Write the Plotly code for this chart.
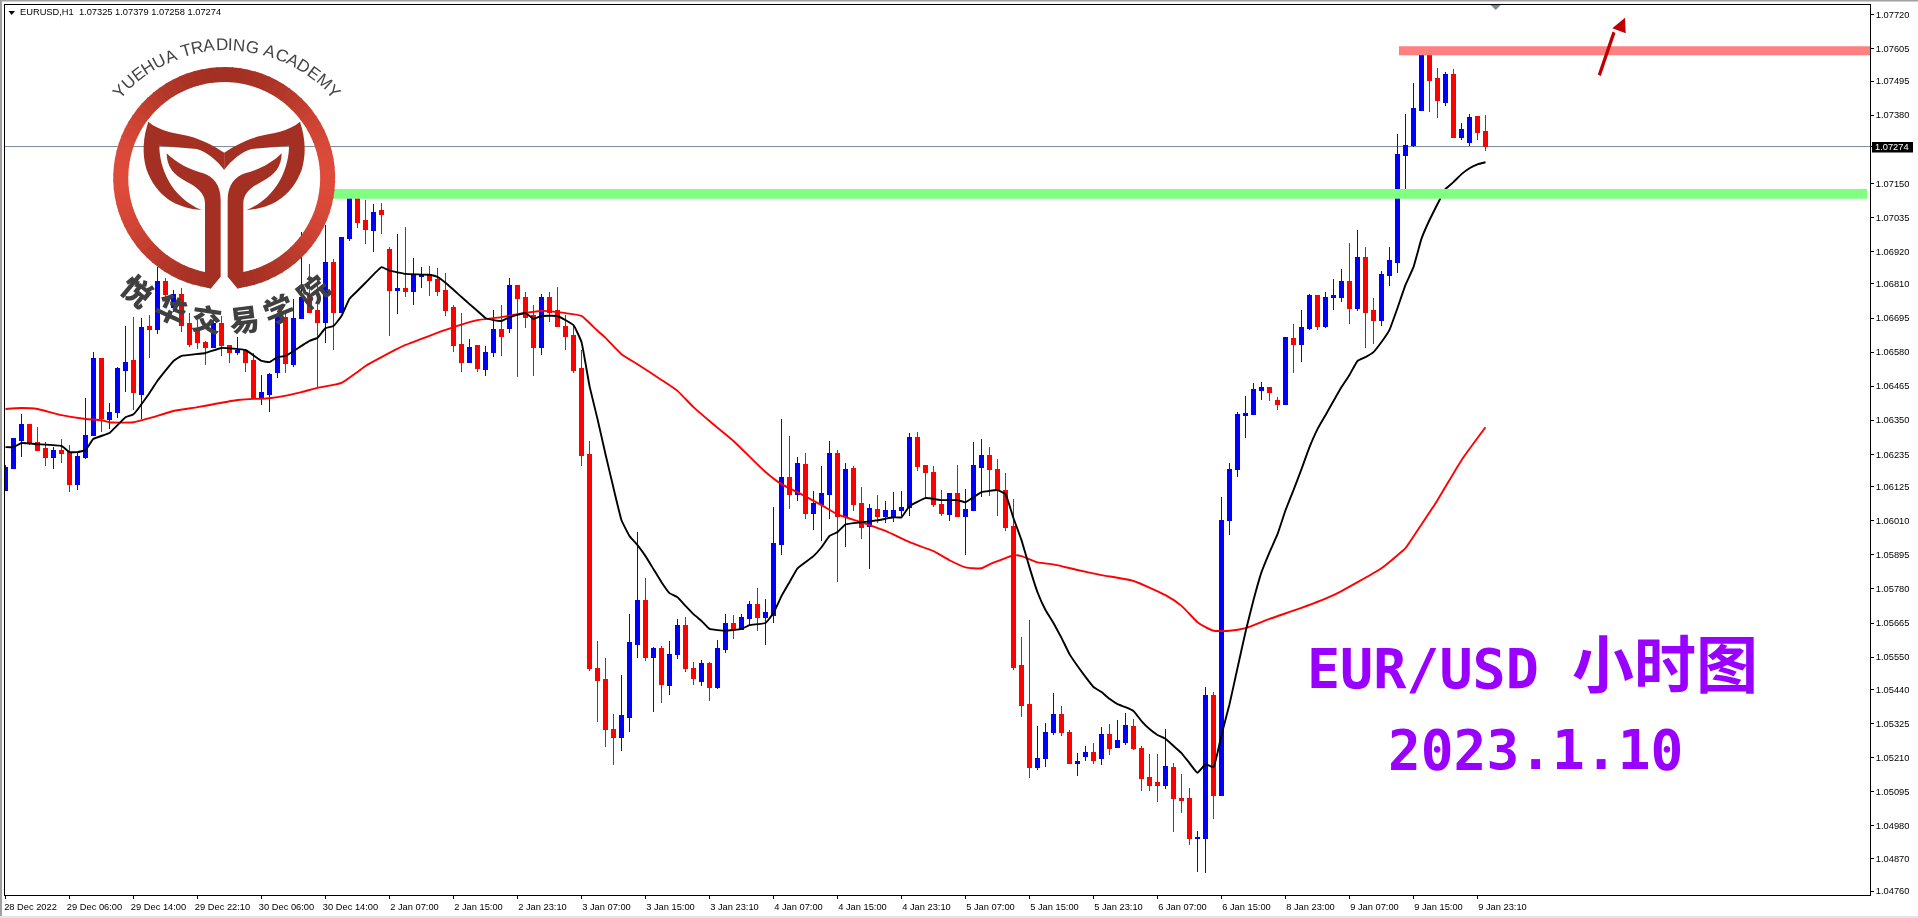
import math
import plotly.graph_objects as go

# ---------------- data ----------------
open_ = [1.06111,1.06188,1.06283,1.06336,1.06276,1.06253,1.06225,1.06249,1.06242,1.06134,
1.06225,1.06297,1.06560,1.06354,1.06377,1.06517,1.06550,1.06438,1.06668,1.06655,
1.06817,1.06732,1.06776,1.06678,1.06658,1.06614,1.06597,1.06678,1.06601,1.06580,
1.06587,1.06550,1.06425,1.06438,1.06510,1.06698,1.06539,1.06692,1.06773,1.06719,
1.06681,1.06884,1.06715,1.06963,1.07107,1.07023,1.06990,1.07057,1.06925,1.06787,
1.06794,1.06783,1.06834,1.06841,1.06824,1.06787,1.06729,1.06604,1.06546,1.06601,
1.06520,1.06577,1.06655,1.06658,1.06804,1.06763,1.06705,1.06594,1.06763,1.06722,
1.06668,1.06635,1.06523,1.06235,1.05513,1.05473,1.05307,1.05277,1.05347,1.05594,
1.05740,1.05547,1.05578,1.05453,1.05560,1.05658,1.05513,1.05466,1.05530,1.05449,
1.05574,1.05665,1.05642,1.05682,1.05726,1.05685,1.05692,1.05931,1.06155,1.06100,
1.06201,1.06036,1.06066,1.06100,1.06239,1.06026,1.06188,1.06070,1.05992,1.06050,
1.06026,1.06026,1.06046,1.06056,1.06290,1.06198,1.06172,1.06066,1.06032,1.06104,
1.06026,1.06046,1.06191,1.06232,1.06185,1.06111,1.05992,1.05520,1.05391,1.05178,
1.05206,1.05294,1.05357,1.05297,1.05192,1.05216,1.05229,1.05206,1.05290,1.05246,
1.05260,1.05317,1.05243,1.05142,1.05125,1.05118,1.05178,1.05074,1.05074,1.04936,
1.04939,1.05422,1.05084,1.06012,1.06182,1.06367,1.06370,1.06449,1.06459,1.06415,
1.06404,1.06625,1.06607,1.06661,1.06770,1.06668,1.06763,1.06766,1.06817,1.06726,
1.06901,1.06719,1.06685,1.06838,1.06881,1.07245,1.07279,1.07397,1.07580,1.07503,
1.07424,1.07516,1.07306,1.07289,1.07377,1.07325]
high = [1.06198,1.06290,1.06370,1.06336,1.06326,1.06276,1.06259,1.06287,1.06266,1.06239,
1.06425,1.06580,1.06560,1.06408,1.06529,1.06668,1.06698,1.06695,1.06705,1.06867,
1.06831,1.06790,1.06797,1.06712,1.06688,1.06618,1.06695,1.06702,1.06604,1.06631,
1.06591,1.06577,1.06503,1.06510,1.06712,1.06722,1.06760,1.06986,1.06877,1.06841,
1.07009,1.06895,1.06969,1.07113,1.07131,1.07094,1.07080,1.07084,1.06935,1.06979,
1.07002,1.06898,1.06867,1.06871,1.06864,1.06848,1.06739,1.06712,1.06625,1.06604,
1.06601,1.06722,1.06739,1.06831,1.06804,1.06783,1.06739,1.06776,1.06783,1.06800,
1.06705,1.06671,1.06587,1.06280,1.05605,1.05547,1.05357,1.05490,1.05695,1.05972,
1.05817,1.05584,1.05588,1.05605,1.05679,1.05685,1.05533,1.05540,1.05533,1.05608,
1.05695,1.05692,1.05695,1.05740,1.05783,1.05746,1.06056,1.06354,1.06297,1.06225,
1.06239,1.06111,1.06195,1.06280,1.06249,1.06205,1.06195,1.06124,1.06066,1.06097,
1.06077,1.06107,1.06111,1.06307,1.06310,1.06198,1.06195,1.06114,1.06104,1.06198,
1.06118,1.06276,1.06287,1.06259,1.06219,1.06172,1.06084,1.05618,1.05675,1.05317,
1.05327,1.05429,1.05385,1.05304,1.05226,1.05250,1.05260,1.05313,1.05323,1.05337,
1.05361,1.05341,1.05250,1.05222,1.05222,1.05307,1.05192,1.05155,1.05108,1.04963,
1.05449,1.05432,1.06090,1.06205,1.06377,1.06432,1.06476,1.06479,1.06459,1.06428,
1.06628,1.06674,1.06722,1.06776,1.06766,1.06783,1.06828,1.06861,1.06949,1.06993,
1.06935,1.06763,1.06855,1.06935,1.07316,1.07383,1.07489,1.07604,1.07597,1.07539,
1.07526,1.07536,1.07353,1.07383,1.07377,1.07379]
low = [1.06111,1.06185,1.06225,1.06266,1.06249,1.06195,1.06185,1.06205,1.06107,1.06114,
1.06219,1.06297,1.06310,1.06320,1.06357,1.06445,1.06384,1.06354,1.06560,1.06641,
1.06742,1.06715,1.06648,1.06597,1.06591,1.06536,1.06597,1.06567,1.06543,1.06570,
1.06513,1.06422,1.06401,1.06377,1.06493,1.06510,1.06529,1.06692,1.06715,1.06459,
1.06611,1.06587,1.06715,1.06956,1.06999,1.06945,1.06918,1.06979,1.06635,1.06708,
1.06766,1.06739,1.06797,1.06770,1.06770,1.06702,1.06580,1.06513,1.06543,1.06513,
1.06500,1.06563,1.06567,1.06645,1.06496,1.06661,1.06500,1.06570,1.06681,1.06664,
1.06587,1.06510,1.06195,1.05504,1.05330,1.05246,1.05185,1.05233,1.05297,1.05547,
1.05537,1.05364,1.05395,1.05422,1.05544,1.05500,1.05456,1.05453,1.05402,1.05443,
1.05564,1.05612,1.05642,1.05655,1.05639,1.05591,1.05665,1.05894,1.06050,1.06077,
1.06016,1.05979,1.05942,1.06016,1.05803,1.05921,1.06043,1.05949,1.05847,1.06002,
1.06002,1.06005,1.06026,1.06026,1.06179,1.06087,1.06056,1.06026,1.06009,1.06022,
1.05894,1.06043,1.06090,1.06094,1.06026,1.05976,1.05507,1.05347,1.05142,1.05169,
1.05178,1.05287,1.05284,1.05192,1.05149,1.05199,1.05188,1.05185,1.05219,1.05243,
1.05253,1.05236,1.05098,1.05098,1.05060,1.05105,1.04959,1.05023,1.04915,1.04824,
1.04821,1.05003,1.05084,1.05962,1.06158,1.06290,1.06370,1.06418,1.06415,1.06384,
1.06401,1.06510,1.06546,1.06655,1.06655,1.06661,1.06722,1.06749,1.06674,1.06719,
1.06594,1.06607,1.06668,1.06804,1.06848,1.07110,1.07272,1.07394,1.07390,1.07370,
1.07411,1.07303,1.07296,1.07276,1.07296,1.07258]
close = [1.06191,1.06287,1.06336,1.06276,1.06249,1.06225,1.06249,1.06239,1.06134,1.06229,
1.06300,1.06560,1.06357,1.06377,1.06523,1.06546,1.06442,1.06664,1.06655,1.06817,
1.06776,1.06776,1.06671,1.06604,1.06611,1.06597,1.06678,1.06601,1.06580,1.06587,
1.06546,1.06422,1.06442,1.06506,1.06705,1.06543,1.06695,1.06763,1.06715,1.06681,
1.06881,1.06715,1.06966,1.07107,1.07016,1.06993,1.07053,1.07046,1.06787,1.06794,
1.06783,1.06841,1.06841,1.06821,1.06783,1.06722,1.06601,1.06546,1.06597,1.06523,
1.06577,1.06655,1.06631,1.06804,1.06760,1.06698,1.06594,1.06763,1.06715,1.06668,
1.06631,1.06517,1.06232,1.05510,1.05470,1.05304,1.05277,1.05354,1.05598,1.05740,
1.05547,1.05578,1.05456,1.05560,1.05658,1.05510,1.05477,1.05530,1.05449,1.05578,
1.05665,1.05645,1.05685,1.05726,1.05685,1.05699,1.05935,1.06155,1.06100,1.06205,
1.06036,1.06070,1.06104,1.06239,1.06026,1.06185,1.06066,1.05988,1.06053,1.06026,
1.06046,1.06046,1.06056,1.06290,1.06195,1.06172,1.06066,1.06036,1.06104,1.06026,
1.06050,1.06198,1.06232,1.06182,1.06111,1.05988,1.05516,1.05385,1.05178,1.05206,
1.05297,1.05357,1.05297,1.05192,1.05199,1.05229,1.05202,1.05290,1.05243,1.05267,
1.05320,1.05240,1.05139,1.05118,1.05118,1.05182,1.05071,1.05067,1.04936,1.04942,
1.05422,1.05084,1.06012,1.06182,1.06370,1.06374,1.06452,1.06459,1.06445,1.06404,
1.06628,1.06607,1.06664,1.06770,1.06668,1.06763,1.06770,1.06817,1.06726,1.06901,
1.06715,1.06685,1.06841,1.06888,1.07248,1.07279,1.07401,1.07580,1.07496,1.07428,
1.07516,1.07306,1.07333,1.07373,1.07320,1.07274]
bars = list(range(186))

fast_idx = [0,1,2,4,7,8,9,10,11,13,15,16,18,19,21,22,25,27,30,32,33,34,35,37,38,39,40,41,42,43,44,45,47,48,50,53,54,55,57,58,59,60,61,62,63,65,66,67,69,71,72,73,74,75,76,77,78,79,80,81,82,83,84,85,86,87,88,90,92,93,95,96,97,98,99,101,102,103,104,105,107,109,111,112,113,115,117,119,120,121,122,124,125,126,127,128,129,130,131,132,133,134,135,136,137,138,139,140,141,142,143,144,145,146,147,148,149,150,151,152,153,154,155,156,157,158,159,160,161,162,163,164,165,166,167,168,169,170,171,172,173,174,175,176,177,178,179,180,181,182,183,184,185]
fast_ma = [1.06259,1.06259,1.06273,1.06269,1.06263,1.06242,1.06242,1.06249,1.06287,1.06307,1.06360,1.06370,1.06442,1.06483,1.06550,1.06567,1.06577,1.06594,1.06587,1.06550,1.06546,1.06563,1.06567,1.06601,1.06618,1.06628,1.06661,1.06668,1.06702,1.06760,1.06787,1.06814,1.06867,1.06855,1.06844,1.06841,1.06834,1.06814,1.06766,1.06742,1.06719,1.06695,1.06688,1.06685,1.06698,1.06712,1.06692,1.06702,1.06702,1.06671,1.06614,1.06466,1.06354,1.06235,1.06121,1.06012,1.05959,1.05928,1.05891,1.05847,1.05803,1.05766,1.05752,1.05723,1.05695,1.05672,1.05645,1.05639,1.05645,1.05658,1.05665,1.05699,1.05756,1.05803,1.05850,1.05891,1.05921,1.05959,1.05972,1.05998,1.06005,1.06012,1.06022,1.06022,1.06060,1.06087,1.06080,1.06080,1.06073,1.06090,1.06107,1.06114,1.06100,1.06019,1.05945,1.05853,1.05769,1.05709,1.05665,1.05615,1.05560,1.05520,1.05483,1.05449,1.05432,1.05409,1.05391,1.05381,1.05368,1.05334,1.05307,1.05287,1.05274,1.05250,1.05226,1.05192,1.05159,1.05188,1.05178,1.05287,1.05391,1.05513,1.05635,1.05743,1.05837,1.05904,1.05965,1.06046,1.06114,1.06185,1.06259,1.06320,1.06367,1.06415,1.06462,1.06503,1.06550,1.06563,1.06580,1.06614,1.06655,1.06729,1.06807,1.06867,1.06963,1.07026,1.07080,1.07131,1.07154,1.07181,1.07201,1.07214,1.07221]

slow_idx = [0,2,4,5,7,10,12,13,16,18,21,24,26,29,31,32,34,37,39,42,44,45,47,50,53,56,58,59,62,64,67,69,72,73,74,75,77,79,82,84,86,88,91,95,97,99,102,104,107,110,113,116,118,120,121,122,123,124,125,126,127,129,131,134,137,141,145,147,149,150,151,153,155,158,162,166,172,174,175,177,179,182,185]
slow_ma = [1.06388,1.06391,1.06388,1.06381,1.06367,1.06354,1.06350,1.06343,1.06343,1.06357,1.06381,1.06394,1.06404,1.06418,1.06422,1.06422,1.06428,1.06445,1.06459,1.06476,1.06513,1.06533,1.06563,1.06604,1.06635,1.06664,1.06681,1.06688,1.06698,1.06708,1.06719,1.06715,1.06702,1.06678,1.06652,1.06628,1.06573,1.06539,1.06486,1.06449,1.06394,1.06347,1.06280,1.06175,1.06134,1.06107,1.06063,1.06032,1.06005,1.05976,1.05938,1.05908,1.05877,1.05853,1.05850,1.05850,1.05863,1.05874,1.05884,1.05894,1.05891,1.05870,1.05863,1.05844,1.05827,1.05807,1.05759,1.05723,1.05668,1.05651,1.05639,1.05639,1.05648,1.05679,1.05716,1.05759,1.05850,1.05894,1.05918,1.05998,1.06080,1.06215,1.06326]

price_ticks = [1.07720,1.07605,1.07495,1.07380,1.07150,1.07035,1.06920,1.06810,1.06695,1.06580,1.06465,1.06350,1.06235,1.06125,1.06010,1.05895,1.05780,1.05665,1.05550,1.05440,1.05325,1.05210,1.05095,1.04980,1.04870,1.04760]
time_ticks = [0,8,16,24,32,40,48,56,64,72,80,88,96,104,112,120,128,136,144,152,160,168,176,184]
time_labels = ["28 Dec 2022","29 Dec 06:00","29 Dec 14:00","29 Dec 22:10","30 Dec 06:00","30 Dec 14:00","2 Jan 07:00","2 Jan 15:00","2 Jan 23:10","3 Jan 07:00","3 Jan 15:00","3 Jan 23:10","4 Jan 07:00","4 Jan 15:00","4 Jan 23:10","5 Jan 07:00","5 Jan 15:00","5 Jan 23:10","6 Jan 07:00","6 Jan 15:00","8 Jan 23:00","9 Jan 07:00","9 Jan 15:00","9 Jan 23:10"]
last_price = 1.07274
support_level = (1.07098, 1.07131)
resistance_level = (1.07582, 1.07613)
title_text = "EURUSD,H1\u00a0\u00a01.07325 1.07379 1.07258 1.07274"
logo_en = "YUEHUA TRADING ACADEMY"
logo_cn = "悦华交易学院"

# ---------------- layout helpers (page pixels -> paper) ----------------
PL, PR, PT, PB = 5, 1870, 5, 895
W, H = 1918, 918
def px(x): return (x - PL) / (PR - PL)
def py(y): return (PB - y) / (PB - PT)

shapes = []
def pixel_path(cmds, fill):
    out = []
    for c in cmds:
        if isinstance(c, str):
            out.append(c)
        else:
            out.append(f"{px(c[0]):.5f},{py(c[1]):.5f}")
    shapes.append(dict(type="path", xref="paper", yref="paper", path=" ".join(out),
                       fillcolor=fill, line=dict(width=0), layer="above"))
def pixel_rect(x0, y0, x1, y1, fill, layer="above"):
    shapes.append(dict(type="rect", xref="paper", yref="paper", x0=px(x0), x1=px(x1), y0=py(y1), y1=py(y0),
                       fillcolor=fill, line=dict(width=0), layer=layer))

fig = go.Figure()
fig.add_trace(go.Candlestick(
    x=bars, open=open_, high=high, low=low, close=close,
    increasing=dict(line=dict(color="#0000ff", width=1), fillcolor="#0000ff"),
    decreasing=dict(line=dict(color="#ff0000", width=1), fillcolor="#ff0000"),
    whiskerwidth=0, showlegend=False, hoverinfo="skip"))
fig.add_trace(go.Scatter(x=slow_idx, y=slow_ma, mode="lines", line=dict(color="#ff0000", width=1.9, shape="spline", smoothing=0.5),
                         showlegend=False, hoverinfo="skip"))
fig.add_trace(go.Scatter(x=fast_idx, y=fast_ma, mode="lines", line=dict(color="#000000", width=1.9, shape="spline", smoothing=0.3),
                         showlegend=False, hoverinfo="skip"))

# price line
shapes.append(dict(type="line", xref="paper", yref="y", x0=0, x1=1, y0=last_price, y1=last_price,
                   line=dict(color="#778899", width=1), layer="below"))
# level bands (blended over the candles)
shapes.append(dict(type="rect", xref="paper", yref="y", x0=px(320), x1=px(1867), y0=support_level[0], y1=support_level[1],
                   fillcolor="#80ff80", line=dict(width=0), layer="above"))
shapes.append(dict(type="rect", xref="paper", yref="y", x0=px(1399), x1=1, y0=resistance_level[0], y1=resistance_level[1],
                   fillcolor="#ff8080", line=dict(width=0), layer="above"))

# window frame
pixel_rect(0, 0, W, 1.5, "#a0a0a0")
pixel_rect(0, 0, 2, H, "#a0a0a0")
pixel_rect(0, 916, W, H, "#e4e4e4")

# logo ring (gradient from overlapping wedges)
cx, cy, Ro, Ri = 224.2, 178, 111, 96
def ring_colour(dx):
    t = abs(dx) ** 2.2
    a, b = (163, 48, 35), (222, 75, 58)
    return "rgb(%d,%d,%d)" % tuple(round(a[k] + (b[k] - a[k]) * t) for k in range(3))
step = 4
for deg in range(-172, 172, step):
    a0, a1 = math.radians(deg), math.radians(min(deg + step + 0.6, 172))
    am = math.radians(deg + step / 2)
    pixel_path(["M", (cx + Ro * math.sin(a0), cy - Ro * math.cos(a0)),
                "L", (cx + Ro * math.sin(a1), cy - Ro * math.cos(a1)),
                "L", (cx + Ri * math.sin(a1), cy - Ri * math.cos(a1)),
                "L", (cx + Ri * math.sin(a0), cy - Ri * math.cos(a0)), "Z"], ring_colour(math.sin(am)))

# logo tail: traced in crop coordinates, left half mirrored to the right
def z(p, mirror=False):
    x = 1345 - p[0] if mirror else p[0]
    return (x / 3, p[1] / 3)
band = ["M",(445,365),"C",(480,395),(530,400),(565,408),"C",(610,420),(645,440),(672.5,458),"L",(672.5,510),
        "C",(650,480),(620,455),(590,447),"L",(478,437),"C",(478,500),(510,590),(605,630),
        "C",(530,625),(470,590),(440,510),"C",(425,460),(430,410),(445,365),"Z"]
leaf = ["M",(500,460),"C",(530,490),(570,510),(610,520),"C",(640,530),(662,555),(662,600),"L",(662,830),"L",(632,866),"L",(615,860),
        "L",(615,610),"C",(615,580),(590,560),(560,545),"C",(520,525),(500,500),(500,460),"Z"]
for part in (band, leaf):
    for m in (False, True):
        pixel_path([c if isinstance(c, str) else z(c, m) for c in part], "#a33023")

# arrow and small markers
pixel_path(["M",(1597.8,74.6),"L",(1600.8,76),"L",(1615.5,33),"L",(1612.5,31.5),"Z"], "#c00000")
pixel_path(["M",(1625,17.7),"L",(1612.3,28.3),"L",(1625.7,33.3),"Z"], "#c00000")
pixel_path(["M",(1490.7,5),"L",(1500.7,5),"L",(1495.7,10),"Z"], "#778899")
pixel_path(["M",(8.5,11),"L",(15,11),"L",(11.7,15),"Z"], "#000000")
pixel_rect(1872, 142, 1913, 152.5, "#000000")

anns = []
def note(text, x, y, size, color, family, angle=0, anchor="center", bold=False, weight=None):
    if bold:
        text = "<b>" + text + "</b>"
    f = dict(size=size, color=color, family=family)
    if weight:
        f["weight"] = weight
    anns.append(dict(text=text, xref="paper", yref="paper", x=px(x), y=py(y), xanchor=anchor, yanchor="middle",
                     showarrow=False, textangle=angle, borderpad=0, borderwidth=0, font=f))

UI = "Liberation Sans"
note(title_text, 20, 12.5, 9.3, "#000000", UI, anchor="left")
note("1.07274", 1892.5, 147, 9.3, "#ffffff", UI)

# main captions
CAP = "DejaVu Sans Mono, Noto Sans CJK SC"
note('EUR/USD\u00a0<span style="font-size:62px">小时图</span>', 1532, 666, 55, "#9900ff", CAP, bold=True)
note("2023.1.10", 1535, 750, 54.5, "#9900ff", CAP, bold=True)

# logo caption on its arc
em = dict(zip("YUEHATRDINGCM ", [.667,.722,.667,.722,.667,.611,.722,.722,.278,.722,.778,.722,.833,.278]))
size_en = 17
total = sum(em[c] for c in logo_en) * size_en
ax, ay, Ra = 226.7, 191, 140
s = -total / 2
for ch in logo_en:
    w = em[ch] * size_en
    phi = (s + w / 2) / Ra
    s += w
    if ch == " ":
        continue
    r = Ra + 0.36 * size_en
    note(ch, ax + r * math.sin(phi), ay - r * math.cos(phi), size_en, "#444444", UI, angle=math.degrees(phi))

cn_pos = [(138, 290, 40), (172, 308, 25), (207, 318, 8), (244, 318, -7), (278, 308, -22), (312, 290, -38)]
for ch, (x, y, ang) in zip(logo_cn, cn_pos):
    note(ch, x, y, 30, "#404040", "Noto Sans CJK SC", angle=ang, weight=900)

fig.update_layout(
    width=W, height=H, autosize=False,
    margin=dict(l=PL, r=W - PR, t=PT, b=H - PB, pad=0),
    paper_bgcolor="#ffffff", plot_bgcolor="#ffffff",
    boxgap=0.5, boxgroupgap=0, shapes=shapes, annotations=anns, showlegend=False,
    font=dict(family=UI, size=9.3, color="#000000"),
    xaxis=dict(range=[-0.0625, 233.0625], rangeslider=dict(visible=False), showgrid=False, zeroline=False,
               showline=True, linecolor="#000000", linewidth=1, mirror=True,
               ticks="outside", ticklen=3, tickcolor="#000000", tickwidth=1,
               tickmode="array", tickvals=time_ticks, ticktext=time_labels, tickangle=0,
               ticklabelshift=25, tickfont=dict(family=UI, size=9.3, color="#000000")),
    yaxis=dict(range=[1.047466, 1.077521], side="right", showgrid=False, zeroline=False,
               showline=True, linecolor="#000000", linewidth=1, mirror=True,
               ticks="outside", ticklen=3, tickcolor="#000000", tickwidth=1,
               tickmode="array", tickvals=price_ticks + [last_price],
               ticktext=["%.5f" % v for v in price_ticks] + [""],
               tickfont=dict(family=UI, size=9.3, color="#000000")),
)

post = """
document.body.style.margin='0';
document.querySelectorAll('.shapelayer path').forEach(function(p){
  var f=p.style.fill;
  if(f==='rgb(128, 255, 128)'||f==='rgb(255, 128, 128)'){p.style.mixBlendMode='multiply';}
});
document.querySelectorAll('.boxlayer path').forEach(function(p){p.style.shapeRendering='crispEdges';});
"""
fig.write_html("out.html", post_script=post, config=dict(displayModeBar=False))
